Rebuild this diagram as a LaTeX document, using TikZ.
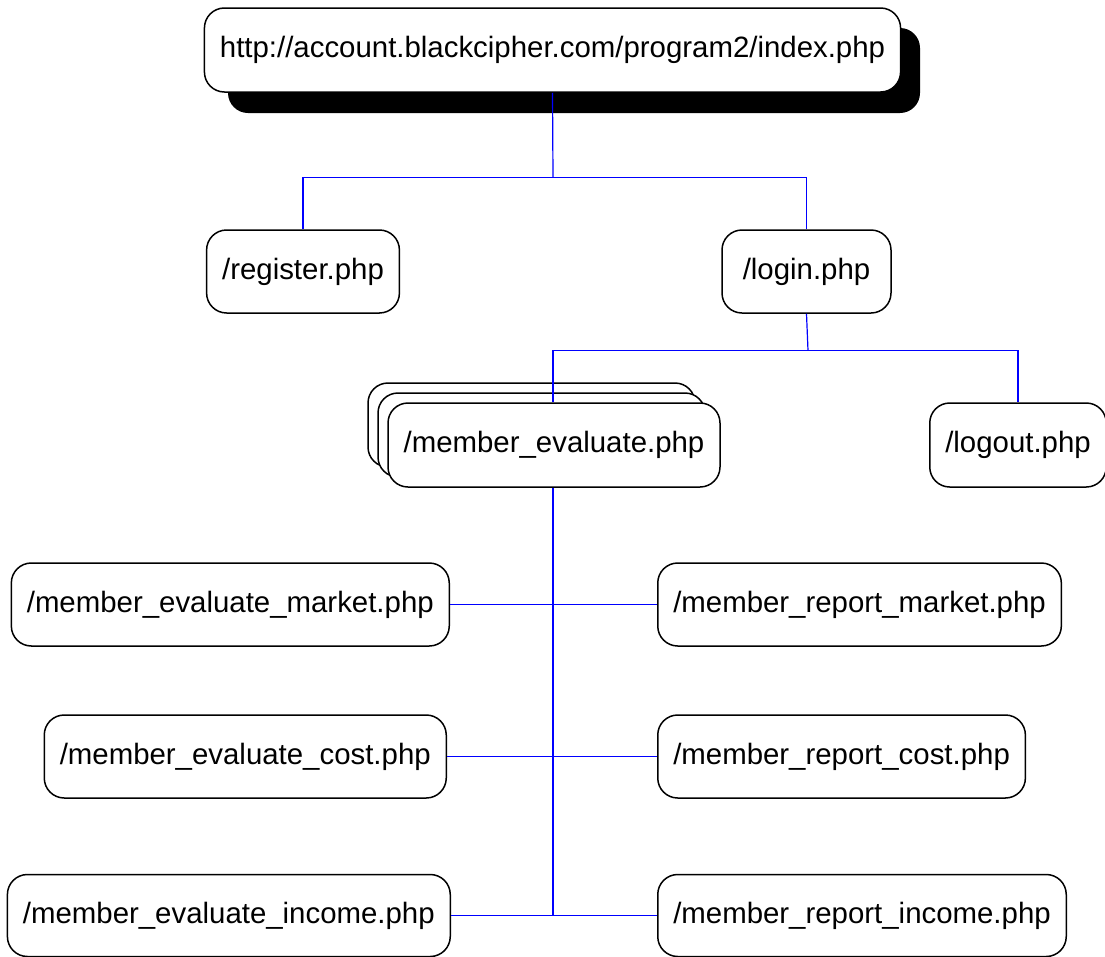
\documentclass[tikz,border=0pt]{standalone}
\usepackage{fontspec}
\setmainfont{Liberation Sans}
\begin{document}
\begin{tikzpicture}[x=1pt,y=-1pt,
  page/.style={draw=black,line width=1.5pt,fill=white,rounded corners=20pt,
    inner xsep=15.5pt,inner ysep=0pt,minimum height=83pt,
    font=\fontsize{29.4}{34}\selectfont},
  link/.style={draw=blue,line width=1.2pt},
  trunk/.style={draw=blue,line width=2pt}]
\useasboundingbox (0,0) rectangle (1105,956);

% root page with drop shadow
\fill[black,rounded corners=20pt] (228,28) rectangle (920,113);
\node[page,minimum width=695pt,minimum height=84pt] (root) at (552.5,50)
  {http://account.blackcipher.com/program2/index.php};

% second level
\node[page,minimum width=192pt] (reg) at (303,271.5) {/register.php};
\node[page,minimum width=169pt] (login) at (806.5,271.5) {/login.php};

% stacked member pages
\node[page,minimum width=327pt,minimum height=84pt] (stackA) at (531.5,425) {};
\node[page,minimum width=327pt,minimum height=84pt] (stackB) at (541.5,435) {};
\node[page,minimum width=332pt,minimum height=84pt] (member) at (554,445) {/member\_evaluate.php};
\node[page,minimum width=172pt,minimum height=84pt] (logout) at (1018,445) {/logout.php};

% leaf pages
\node[page,anchor=east] (evm) at (450,604.5) {/member\_evaluate\_market.php};
\node[page,anchor=west] (rpm) at (657,604.5) {/member\_report\_market.php};
\node[page,anchor=east] (evc) at (447,756.5) {/member\_evaluate\_cost.php};
\node[page,anchor=west] (rpc) at (657,756.5) {/member\_report\_cost.php};
\node[page,anchor=east,minimum height=82pt] (evi) at (451,915.5) {/member\_evaluate\_income.php};
\node[page,anchor=west,minimum height=82pt] (rpi) at (657,915.5) {/member\_report\_income.php};

% connectors
\coordinate (j1) at (553,177.5);
\coordinate (j2) at (808,350.5);
\draw[link] (root.south) -- (j1);
\draw[link] (reg.north) |- (j1) -| (login.north);
\draw[link] (login.south) -- (j2);
\draw[link] (member.north -| j1) |- (j2) -| (logout.north);

\coordinate (t1) at (553,604.5);
\coordinate (t2) at (553,756.5);
\coordinate (t3) at (553,915.5);
\draw[trunk] (member.south -| t1) -- (t3);
\draw[link] (evm.east) -- (t1) -- (rpm.west);
\draw[link] (evc.east) -- (t2) -- (rpc.west);
\draw[link] (evi.east) -- (t3) -- (rpi.west);
\end{tikzpicture}
\end{document}
